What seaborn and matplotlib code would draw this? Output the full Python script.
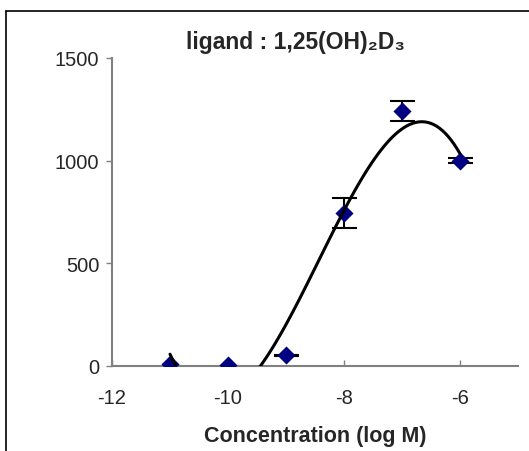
import numpy as np
import pandas as pd
import matplotlib
matplotlib.use("Agg")
import matplotlib.pyplot as plt
from matplotlib.lines import Line2D
import seaborn as sns

# data
log_conc = [-11, -10, -9, -8, -7, -6]
response = [10, 5, 52, 745, 1242, 1000]
err = [np.nan, np.nan, 4, 75, 48, 12]
x_ticks = [-12, -10, -8, -6]
y_ticks = [0, 500, 1000, 1500]

df = pd.DataFrame({"x": log_conc, "y": response, "err": err})

sns.set_theme(style="white")
plt.rcParams["font.family"] = ["Liberation Sans", "DejaVu Sans"]

fig = plt.figure(figsize=(5.29, 4.52), dpi=100)
ax = fig.add_axes([112/529, 1-367/452, (518-112)/529, (367-59)/452])

e = df.dropna()
ax.errorbar(e["x"], e["y"], yerr=e["err"], fmt="none", ecolor="black",
            elinewidth=1.5, capsize=9, capthick=1.5, zorder=2)
sns.scatterplot(data=df, x="x", y="y", marker="D", s=85, color="#000080",
                edgecolor="#000080", linewidth=0, ax=ax, zorder=3)
sns.regplot(data=df, x="x", y="y", order=3, ci=None, scatter=False,
            line_kws=dict(color="black", lw=2.2, zorder=4), ax=ax)

ax.set_xlim(-12, -5)
ax.set_ylim(0, 1500)
ax.set_xticks(x_ticks)
ax.set_yticks(y_ticks)
ax.set_xticklabels([str(t) for t in x_ticks])
ax.set_yticklabels([str(t) for t in y_ticks])
ax.set_xlabel("Concentration (log M)", fontsize=15.5, fontweight="bold", labelpad=13)
ax.set_ylabel("")
for s in ["top", "right"]:
    ax.spines[s].set_visible(False)
for s in ["left", "bottom"]:
    ax.spines[s].set_color("#808080")
    ax.spines[s].set_linewidth(1.5)
ax.tick_params(axis="y", direction="out", length=4, width=1, color="#808080",
               labelsize=14.5, pad=5, left=True)
ax.tick_params(axis="x", direction="in", length=4, width=1, color="#808080",
               labelsize=14.5, pad=16, bottom=True)

fig.text(296/529, 1-43/452, "ligand : 1,25(OH)\u2082D\u2083", ha="center",
         va="center", fontsize=16.5, fontweight="bold",
         family=["Liberation Sans", "DejaVu Sans"])

# figure frame (left and top)
fig.add_artist(Line2D([5.5/529, 5.5/529], [0, 1-11.5/452], color="black", lw=1.2,
                      transform=fig.transFigure))
fig.add_artist(Line2D([5.5/529, 1], [1-11.5/452, 1-11.5/452], color="black", lw=1.2,
                      transform=fig.transFigure))

fig.savefig("out.png", dpi=100)
